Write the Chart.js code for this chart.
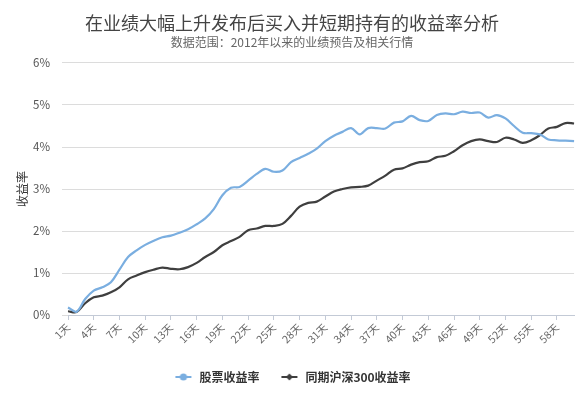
<!DOCTYPE html>
<html>
<head>
<meta charset="utf-8">
<script src="https://cdn.jsdelivr.net/npm/chart.js@4/dist/chart.umd.min.js"></script>
<style>
  html, body { margin: 0; padding: 0; background: #fff; overflow: hidden; }
  #wrap { width: 584px; height: 397px; }
</style>
</head>
<body>
<div id="wrap"><canvas id="chart" width="584" height="397"></canvas></div>
<script>
// 数据：持有天数与收益率（%）
const days = [];
for (let i = 1; i <= 60; i++) days.push(i + '天');

const stockReturn = [
  0.18, 0.08, 0.38, 0.58, 0.66, 0.78, 1.08, 1.38, 1.54, 1.67,
  1.77, 1.85, 1.89, 1.96, 2.04, 2.16, 2.30, 2.52, 2.85, 3.03,
  3.05, 3.20, 3.36, 3.48, 3.41, 3.44, 3.64, 3.74, 3.84, 3.96,
  4.14, 4.27, 4.36, 4.45, 4.30, 4.45, 4.45, 4.44, 4.58, 4.61,
  4.74, 4.64, 4.62, 4.76, 4.80, 4.78, 4.84, 4.81, 4.82, 4.70,
  4.76, 4.68, 4.50, 4.34, 4.33, 4.30, 4.18, 4.16, 4.15, 4.14
];

const hs300Return = [
  0.09, 0.07, 0.28, 0.42, 0.46, 0.54, 0.66, 0.85, 0.94, 1.02,
  1.08, 1.13, 1.10, 1.09, 1.14, 1.24, 1.38, 1.50, 1.66, 1.76,
  1.86, 2.02, 2.06, 2.12, 2.12, 2.17, 2.36, 2.58, 2.67, 2.70,
  2.82, 2.94, 3.00, 3.04, 3.05, 3.08, 3.20, 3.32, 3.46, 3.49,
  3.58, 3.64, 3.66, 3.76, 3.79, 3.90, 4.04, 4.14, 4.18, 4.14,
  4.12, 4.22, 4.18, 4.10, 4.16, 4.28, 4.44, 4.48, 4.57, 4.56
];

const blue = '#7aaee0';
const dark = '#3f3f3f';
const fontFamily = '"Noto Sans CJK SC", "Noto Sans", sans-serif';

// 图例标记：线段加点
function legendMarker(color, shape) {
  const c = document.createElement('canvas');
  c.width = 18; c.height = 10;
  const g = c.getContext('2d');
  g.strokeStyle = color;
  g.fillStyle = color;
  g.lineWidth = 2;
  g.beginPath();
  g.moveTo(1, 5); g.lineTo(17, 5);
  g.stroke();
  g.beginPath();
  if (shape === 'circle') {
    g.arc(9, 5, 3.6, 0, Math.PI * 2);
  } else {
    g.moveTo(9, 1.5); g.lineTo(12.5, 5); g.lineTo(9, 8.5); g.lineTo(5.5, 5); g.closePath();
  }
  g.fill();
  return c;
}

const markers = [legendMarker(blue, 'circle'), legendMarker(dark, 'diamond')];

const ctx = document.getElementById('chart').getContext('2d');
new Chart(ctx, {
  type: 'line',
  data: {
    labels: days,
    datasets: [
      {
        label: '股票收益率',
        data: stockReturn,
        borderColor: blue,
        backgroundColor: blue,
        borderWidth: 2.2,
        pointRadius: 0,
        tension: 0.35,
        fill: false,
      },
      {
        label: '同期沪深300收益率',
        data: hs300Return,
        borderColor: dark,
        backgroundColor: dark,
        borderWidth: 2.2,
        pointRadius: 0,
        tension: 0.35,
        fill: false,
      },
    ],
  },
  options: {
    responsive: false,
    animation: false,
    layout: { padding: { left: 0, right: 0, top: 0, bottom: 4 } },
    plugins: {
      title: {
        display: true,
        text: '在业绩大幅上升发布后买入并短期持有的收益率分析',
        color: '#444444',
        font: { family: fontFamily, size: 18, weight: 'normal' },
        padding: { top: 12, bottom: 2 },
      },
      subtitle: {
        display: true,
        text: '数据范围：2012年以来的业绩预告及相关行情',
        color: '#666666',
        font: { family: fontFamily, size: 12, weight: 'normal' },
        padding: { top: 0, bottom: 13 },
      },
      legend: {
        position: 'bottom',
        labels: {
          usePointStyle: true,
          pointStyleWidth: 20,
          color: '#333333',
          font: { family: fontFamily, size: 12, weight: 'bold' },
          padding: 20,
          generateLabels: (chart) => chart.data.datasets.map((ds, i) => ({
            text: ds.label,
            pointStyle: markers[i],
            fillStyle: ds.borderColor,
            strokeStyle: ds.borderColor,
            lineWidth: 0,
            fontColor: '#333333',
            datasetIndex: i,
            hidden: false,
          })),
        },
      },
      tooltip: { enabled: false },
    },
    scales: {
      x: {
        offset: false,
        afterFit: (scale) => { scale.height = 36; },
        border: { display: true, color: '#c3cad6', width: 1 },
        grid: {
          drawOnChartArea: false,
          drawTicks: true,
          tickLength: 5,
          color: (c) => (c.index % 3 === 0 ? '#c3cad6' : 'rgba(0,0,0,0)'),
        },
        ticks: {
          autoSkip: false,
          maxRotation: 45,
          minRotation: 45,
          padding: 1,
          color: '#666666',
          font: { family: fontFamily, size: 10.5 },
          callback: function (value, index) {
            return index % 3 === 0 ? this.getLabelForValue(value) : '';
          },
        },
      },
      y: {
        min: 0,
        max: 6,
        afterFit: (scale) => { scale.width = 68; },
        border: { display: false },
        grid: {
          color: '#dcdcdc',
          drawTicks: true,
          tickLength: 6,
        },
        ticks: {
          stepSize: 1,
          padding: 12,
          color: '#555555',
          font: { family: fontFamily, size: 11.5 },
          callback: (v) => v + '%',
        },
        title: {
          display: true,
          text: '收益率',
          color: '#333333',
          font: { family: fontFamily, size: 12 },
          padding: { top: 15, bottom: 0 },
        },
      },
    },
  },
});
</script>
</body>
</html>
